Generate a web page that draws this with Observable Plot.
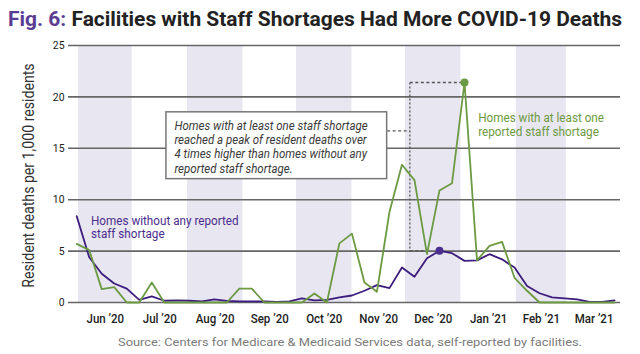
<!DOCTYPE html>
<html>
<head>
<meta charset="utf-8">
<script src="https://cdn.jsdelivr.net/npm/d3@7"></script>
<script src="https://cdn.jsdelivr.net/npm/@observablehq/plot@0.6"></script>
<style>
  body { margin: 0; background: #fff; width: 640px; height: 354px; overflow: hidden; font-family: Roboto, sans-serif; }
  #wrap { position: relative; width: 640px; height: 354px; }
  #title { position: absolute; left: 8px; top: 9px; font-size: 21px; line-height: 21px; font-weight: bold; color: #222;
           white-space: nowrap; transform-origin: 0 0; }
  #title .fig { color: #5b3c93; }
  #chart { position: absolute; left: 0; top: 38px; }
  #caption { position: absolute; left: 118px; top: 336px; font-size: 11.7px; line-height: 12px; color: #7a7a7a;
             white-space: nowrap; transform-origin: 0 0; }
</style>
</head>
<body>
<div id="wrap">
  <div id="title"><span class="fig">Fig. 6:</span> Facilities with Staff Shortages Had More COVID-19 Deaths</div>
  <div id="chart"></div>
  <div id="caption">Source: Centers for Medicare &amp; Medicaid Services data, self-reported by facilities.</div>
</div>
<script>
const FONT = "Roboto, sans-serif";

// Weekly reporting dates (week ending)
const weeks = [
  "2020-05-31","2020-06-07","2020-06-14","2020-06-21","2020-06-28",
  "2020-07-05","2020-07-12","2020-07-19","2020-07-26",
  "2020-08-02","2020-08-09","2020-08-16","2020-08-23","2020-08-30",
  "2020-09-06","2020-09-13","2020-09-20","2020-09-27",
  "2020-10-04","2020-10-11","2020-10-18","2020-10-25",
  "2020-11-01","2020-11-08","2020-11-15","2020-11-22","2020-11-29",
  "2020-12-06","2020-12-13","2020-12-20","2020-12-27",
  "2021-01-03","2021-01-10","2021-01-17","2021-01-24","2021-01-31",
  "2021-02-07","2021-02-14","2021-02-21","2021-02-28",
  "2021-03-07","2021-03-14","2021-03-21","2021-03-28"
];

// Homes with at least one reported staff shortage
const withShortage = [
  5.7, 5.1, 1.3, 1.5, 0,
  0, 1.95, 0, 0,
  0, 0, 0, 0, 1.35,
  1.35, 0, 0, 0,
  0, 0.88, 0, 5.75,
  6.7, 1.95, 1.04, 8.8, 13.4,
  11.9, 4.7, 10.9, 11.6,
  21.4, 4.1, 5.5, 5.9, 2.4,
  1.14, 0, 0, 0,
  0, 0, 0, 0
];

// Homes without any reported staff shortage
const withoutShortage = [
  8.4, 4.4, 2.8, 1.85, 1.35,
  0.25, 0.6, 0.17, 0.2,
  0.17, 0.1, 0.3, 0.15, 0.1,
  0.1, 0.1, 0.05, 0.1,
  0.4, 0.2, 0.25, 0.5,
  0.68, 1.14, 1.69, 1.4, 3.4,
  2.5, 4.3, 5.03, 4.8,
  4.05, 4.1, 4.7, 4.2, 3.4,
  1.6, 0.9, 0.5, 0.4,
  0.3, 0.07, 0.05, 0.2
];

// Shaded months (alternate bands)
const shadedMonths = ["2020-06", "2020-08", "2020-10", "2020-12", "2021-02"];
// Month tick labels (placed mid-month)
const monthTicks = ["2020-06","2020-07","2020-08","2020-09","2020-10","2020-11","2020-12","2021-01","2021-02","2021-03"];
const yTicks = [0, 5, 10, 15, 20, 25];

const yLabel = "Resident deaths per 1,000 residents";
const labelWithout = "Homes without any reported\nstaff shortage";
const labelWith = "Homes with at least one\nreported staff shortage";
const noteText = "Homes with at least one staff shortage\nreached a peak of resident deaths over\n4 times higher than homes without any\nreported staff shortage.";

const parse = s => new Date(s + "T00:00:00Z");
const green = "#6c9a43";
const purple = "#3c1c7c";

const dataWith = weeks.map((w, i) => ({date: parse(w), value: withShortage[i]}));
const dataWithout = weeks.map((w, i) => ({date: parse(w), value: withoutShortage[i]}));

const bands = shadedMonths.map(m => {
  const start = parse(m + "-01");
  return {x1: start, x2: d3.utcMonth.offset(start, 1)};
});
const tickDates = monthTicks.map(m => {
  const start = parse(m + "-01");
  const end = d3.utcMonth.offset(start, 1);
  return new Date((+start + +end) / 2);
});

const peakWith = dataWith.reduce((a, b) => b.value > a.value ? b : a);
const peakWithout = dataWithout.slice(20).reduce((a, b) => b.value > a.value ? b : a);

// annotation geometry in data coordinates
const boxLeft = new Date("2020-07-20T05:00:00Z");
const boxRight = new Date("2020-11-20T17:00:00Z");
const bracketX = new Date("2020-12-03T10:00:00Z");
const bracketBottomEnd = parse("2020-12-13");
const connectorY = 16.7;

const dashed = {stroke: "#555", strokeWidth: 1.3, strokeDasharray: "3,2.5"};

const chart = Plot.plot({
  width: 640,
  height: 290,
  marginTop: 7,
  marginBottom: 26,
  marginLeft: 68,
  marginRight: 20,
  style: {fontFamily: FONT, fontSize: "13px", color: "#222", background: "transparent", overflow: "visible"},
  x: {type: "utc", domain: [new Date("2020-05-26T09:36:00Z"), new Date("2021-03-31T07:00:00Z")]},
  y: {domain: [0, 25]},
  marks: [
    Plot.rect(bands, {x1: "x1", x2: "x2", y1: 0, y2: 25, fill: "#e8e6f0"}),
    Plot.ruleY(yTicks, {stroke: "#666", strokeWidth: 1.6}),
    Plot.axisY({ticks: yTicks, tickSize: 0, tickPadding: 4, label: null, fontSize: 11.6, fill: "#222"}),
    Plot.axisX({ticks: tickDates, tickFormat: d3.utcFormat("%b \u2019%y"), tickSize: 0, tickPadding: 11, label: null, fontSize: 12.8, fontWeight: 500, fill: "#222"}),
    Plot.text([yLabel], {frameAnchor: "left", textAnchor: "middle", dx: -40, dy: 1.5, rotate: -90, fontSize: 15.7, fill: "#333"}),
    // bracket annotation
    Plot.link([{x1: boxRight, x2: bracketX, y1: connectorY, y2: connectorY}], {x1: "x1", x2: "x2", y1: "y1", y2: "y2", ...dashed}),
    Plot.link([{x1: bracketX, x2: bracketX, y1: peakWith.value, y2: peakWithout.value}], {x1: "x1", x2: "x2", y1: "y1", y2: "y2", ...dashed, strokeDasharray: "2,2"}),
    Plot.link([{x1: bracketX, x2: peakWith.date, y1: peakWith.value, y2: peakWith.value}], {x1: "x1", x2: "x2", y1: "y1", y2: "y2", ...dashed}),
    Plot.link([{x1: bracketX, x2: bracketBottomEnd, y1: peakWithout.value, y2: peakWithout.value}], {x1: "x1", x2: "x2", y1: "y1", y2: "y2", ...dashed}),
    Plot.line(dataWithout, {x: "date", y: "value", stroke: purple, strokeWidth: 1.8}),
    Plot.line(dataWith, {x: "date", y: "value", stroke: green, strokeWidth: 1.8}),
    Plot.dot([peakWith], {x: "date", y: "value", r: 4, fill: green}),
    Plot.dot([peakWithout], {x: "date", y: "value", r: 4, fill: "#4a2d8c"}),
    // annotation box
    Plot.rect([{x1: boxLeft, x2: boxRight, y1: 12.0, y2: 18.5}], {x1: "x1", x2: "x2", y1: "y1", y2: "y2", fill: "white", stroke: "#777", strokeWidth: 1.5}),
    Plot.text([noteText], {x: boxLeft, y: 18.5, textAnchor: "start", lineAnchor: "top", dx: 8, dy: 7, fontSize: 12.8, fontStyle: "italic", fill: "#3a3a3a", lineHeight: 1.12}),
    // series labels
    Plot.text([labelWithout], {x: parse("2020-06-08"), y: 7.27, textAnchor: "start", lineAnchor: "middle", fontSize: 13, fill: "#4a2d8c", lineHeight: 0.97}),
    Plot.text([labelWith], {x: new Date("2021-01-10T16:00:00Z"), y: 17.3, textAnchor: "start", lineAnchor: "middle", fontSize: 13, fill: green, lineHeight: 1.03})
  ]
});
document.getElementById("chart").appendChild(chart);

// Condense SVG text horizontally to mimic the reference's semi-condensed face
const K = 0.9;
chart.querySelectorAll("text").forEach(t => {
  const tr = t.getAttribute("transform");
  if (tr) t.setAttribute("transform", tr + ` scale(${K},1)`);
  else {
    const x = +(t.getAttribute("x") || 0), y = +(t.getAttribute("y") || 0);
    t.setAttribute("transform", `translate(${x},${y}) scale(${K},1) translate(${-x},${-y})`);
  }
});

// Fit HTML title and caption to the reference widths
function fit(el, target) {
  const w = el.getBoundingClientRect().width;
  el.style.transform = `scaleX(${target / w})`;
}
fit(document.getElementById("title"), 614);
fit(document.getElementById("caption"), 464);
</script>
</body>
</html>
